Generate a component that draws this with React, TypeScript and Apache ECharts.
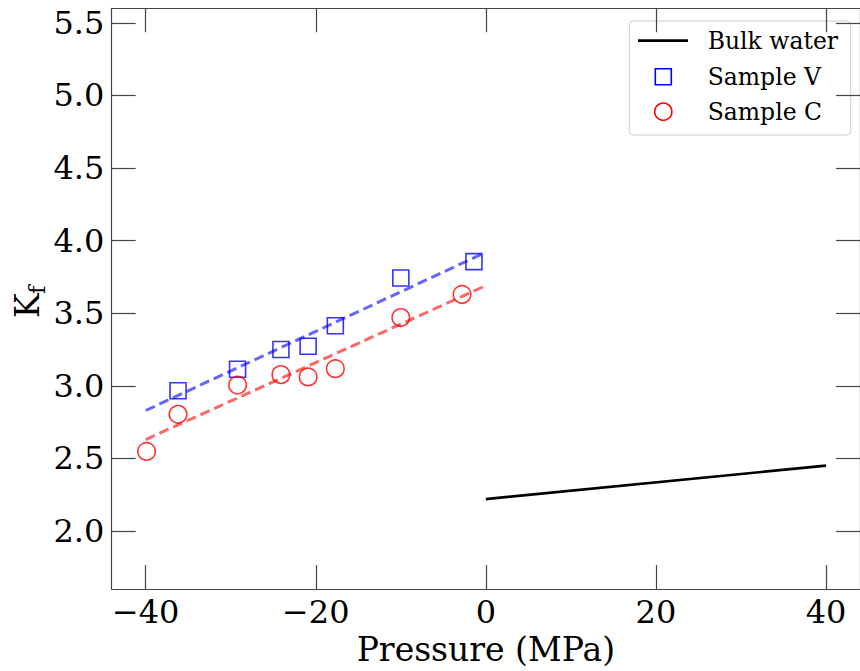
import React, { useEffect, useRef } from "react";
import * as echarts from "echarts";

const xTicks = [-40, -20, 0, 20, 40];
const yTicks = [2.0, 2.5, 3.0, 3.5, 4.0, 4.5, 5.0, 5.5];

const bulkWater: number[][] = [
  [0, 2.22],
  [40, 2.45],
];

const sampleV: number[][] = [
  [-36.2, 2.966],
  [-29.2, 3.114],
  [-24.1, 3.25],
  [-20.9, 3.273],
  [-17.7, 3.414],
  [-10.0, 3.743],
  [-1.4, 3.855],
];

const sampleC: number[][] = [
  [-39.9, 2.548],
  [-36.2, 2.804],
  [-29.2, 3.005],
  [-24.1, 3.077],
  [-20.9, 3.061],
  [-17.7, 3.118],
  [-10.0, 3.47],
  [-2.8, 3.629],
];

const fitV: number[][] = [
  [-40, 2.83],
  [0, 3.92],
];

const fitC: number[][] = [
  [-40, 2.63],
  [0, 3.69],
];

const legendNames = ["Bulk water", "Sample V", "Sample C"];

const FONT = "DejaVu Serif";
const AXIS_COLOR = "#444";

function fmtX(v: number): string {
  return v < 0 ? "\u2212" + Math.abs(v) : String(v);
}

export default function App() {
  const ref = useRef<HTMLDivElement>(null);
  useEffect(() => {
    if (!ref.current) return;
    const chart = echarts.init(ref.current, undefined, { renderer: "svg" });
    const axisLine = { show: true, onZero: false, lineStyle: { color: AXIS_COLOR, width: 1.2 } };
    const xTick = {
      show: true,
      inside: true,
      length: 24,
      customValues: xTicks,
      lineStyle: { color: AXIS_COLOR, width: 1.2 },
    };
    const yTick = {
      show: true,
      inside: true,
      length: 24,
      customValues: yTicks,
      lineStyle: { color: AXIS_COLOR, width: 1.2 },
    };
    const option: any = {
      animation: false,
      backgroundColor: "#fff",
      grid: { left: 111.7, top: 8.3, right: -3.2, bottom: 77, containLabel: false },
      xAxis: [
        {
          type: "value",
          min: -44,
          max: 44,
          position: "bottom",
          axisLine,
          axisTick: xTick,
          splitLine: { show: false },
          axisLabel: {
            customValues: xTicks,
            formatter: (v: number) => fmtX(v),
            fontFamily: FONT,
            fontSize: 32,
            color: "#000",
            margin: 7,
          },
          name: "Pressure (MPa)",
          nameLocation: "middle",
          nameGap: 42,
          nameTextStyle: { fontFamily: FONT, fontSize: 33, color: "#000" },
        },
        {
          type: "value",
          min: -44,
          max: 44,
          position: "top",
          axisLine,
          axisTick: xTick,
          splitLine: { show: false },
          axisLabel: { show: false },
        },
      ],
      yAxis: [
        {
          type: "value",
          min: 1.6,
          max: 5.6,
          position: "left",
          axisLine,
          axisTick: yTick,
          splitLine: { show: false },
          axisLabel: {
            customValues: yTicks,
            formatter: (v: number) => v.toFixed(1),
            fontFamily: FONT,
            fontSize: 32,
            color: "#000",
            margin: 7.4,
          },
        },
        {
          type: "value",
          min: 1.6,
          max: 5.6,
          position: "right",
          axisLine,
          axisTick: yTick,
          splitLine: { show: false },
          axisLabel: { show: false },
        },
      ],
      series: [
        {
          name: legendNames[0],
          type: "line",
          data: bulkWater,
          symbol: "none",
          lineStyle: { color: "#000", width: 2.7 },
          z: 3,
        },
        {
          name: "fitV",
          type: "line",
          data: fitV,
          symbol: "none",
          lineStyle: { color: "#6666ff", width: 3, type: [10, 5] },
          z: 2,
        },
        {
          name: "fitC",
          type: "line",
          data: fitC,
          symbol: "none",
          lineStyle: { color: "#ff6666", width: 3, type: [10, 5] },
          z: 2,
        },
        {
          name: legendNames[1],
          type: "scatter",
          data: sampleV,
          symbol: "rect",
          symbolSize: 16,
          itemStyle: { color: "rgba(0,0,0,0)", borderColor: "#0000ff", borderWidth: 1.6 },
          z: 4,
        },
        {
          name: legendNames[2],
          type: "scatter",
          data: sampleC,
          symbol: "circle",
          symbolSize: 17.5,
          itemStyle: { color: "rgba(0,0,0,0)", borderColor: "#ff0000", borderWidth: 1.6 },
          z: 4,
        },
      ],
      graphic: [
        {
          type: "text",
          x: 27.9,
          y: 318,
          rotation: Math.PI / 2,
          style: {
            text: "K",
            fontFamily: FONT,
            fontSize: 33,
            fill: "#000",
            align: "left",
            verticalAlign: "middle",
          },
        },
        {
          type: "text",
          x: 37,
          y: 294,
          rotation: Math.PI / 2,
          style: {
            text: "f",
            fontFamily: FONT,
            fontSize: 23,
            fill: "#000",
            align: "left",
            verticalAlign: "middle",
          },
        },
        {
          type: "group",
          z: 100,
          children: [
            {
              type: "rect",
              shape: { x: 629.3, y: 21, width: 221.4, height: 114, r: 4 },
              style: { fill: "rgba(255,255,255,0.8)", stroke: "#cccccc", lineWidth: 1 },
            },
            {
              type: "line",
              shape: { x1: 638, y1: 40.7, x2: 688, y2: 40.7 },
              style: { stroke: "#000", lineWidth: 2.7 },
            },
            {
              type: "rect",
              shape: { x: 655.3, y: 68.7, width: 16, height: 16 },
              style: { fill: "none", stroke: "#0000ff", lineWidth: 1.6 },
            },
            {
              type: "circle",
              shape: { cx: 663.3, cy: 111.7, r: 8.6 },
              style: { fill: "none", stroke: "#ff0000", lineWidth: 1.6 },
            },
            {
              type: "text",
              x: 707.7,
              y: 40.7,
              style: { text: legendNames[0], fontFamily: FONT, fontSize: 23.5, fill: "#000", align: "left", verticalAlign: "middle" },
            },
            {
              type: "text",
              x: 707.7,
              y: 76.7,
              style: { text: legendNames[1], fontFamily: FONT, fontSize: 23.5, fill: "#000", align: "left", verticalAlign: "middle" },
            },
            {
              type: "text",
              x: 707.7,
              y: 111.7,
              style: { text: legendNames[2], fontFamily: FONT, fontSize: 23.5, fill: "#000", align: "left", verticalAlign: "middle" },
            },
          ],
        },
      ],
    };
    chart.setOption(option);
    return () => chart.dispose();
  }, []);
  return (
    <div
      ref={ref}
      style={{ position: "fixed", left: 0, top: 0, width: 860, height: 671, background: "#fff" }}
    />
  );
}
